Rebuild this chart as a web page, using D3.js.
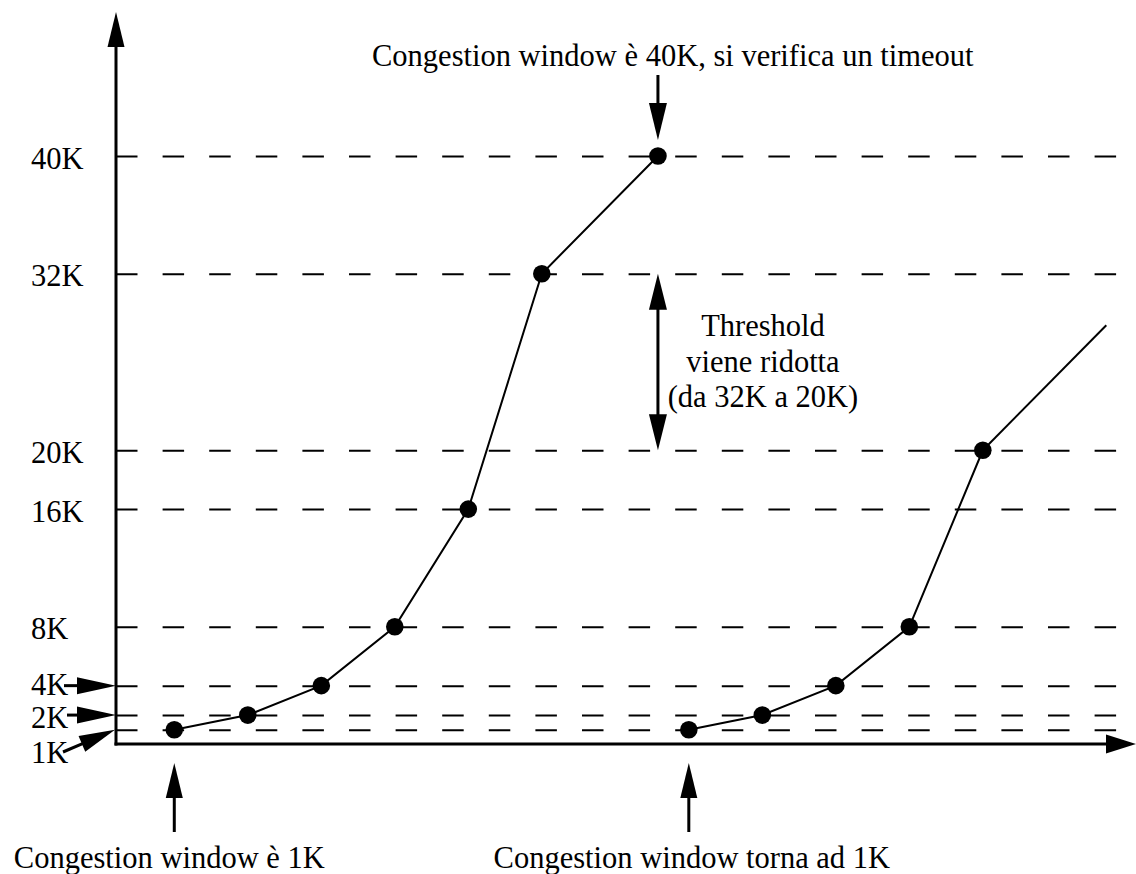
<!DOCTYPE html>
<html>
<head>
<meta charset="utf-8">
<script src="https://cdn.jsdelivr.net/npm/d3@7"></script>
<style>
  html, body { margin: 0; padding: 0; background: #fff; }
  svg { display: block; }
</style>
</head>
<body>
<script>
// ---- Data ----
const tickValuesK = [1, 2, 4, 8, 16, 20, 32, 40];
const tickLabels = ["1K", "2K", "4K", "8K", "16K", "20K", "32K", "40K"];
const round1X = [0, 1, 2, 3, 4, 5, 6.58];
const round1Y = [1, 2, 4, 8, 16, 32, 40];
const round2X = [7, 8, 9, 10, 11];
const round2Y = [1, 2, 4, 8, 20];
const tailX = [11, 12.68];
const tailY = [20, 28.5];
const topNote = "Congestion window è 40K, si verifica un timeout";
const thresholdNote = ["Threshold", "viene ridotta", "(da 32K a 20K)"];
const bottomNotes = ["Congestion window è 1K", "Congestion window torna ad 1K"];

// ---- Layout ----
const W = 1136, H = 874;
const FONT = "'Liberation Serif', 'Times New Roman', serif";
const FS = 30.5;

const svg = d3.select("body").append("svg")
  .attr("width", W).attr("height", H)
  .attr("viewBox", `0 0 ${W} ${H}`);

const x = d3.scaleLinear().domain([-0.793, 13.084]).range([116, 1136]);
const y = d3.scaleLinear().domain([0, 40]).range([744.5, 156]);

function arrowHead(tipX, tipY, dx, dy, len = 35, half = 8.5) {
  const n = Math.hypot(dx, dy); const ux = dx / n, uy = dy / n;
  const bx = tipX - ux * len, by = tipY - uy * len;
  const px = -uy * half, py = ux * half;
  svg.append("polygon")
    .attr("points", `${tipX},${tipY} ${bx + px},${by + py} ${bx - px},${by - py}`)
    .attr("fill", "#000");
}
function arrow(x1, y1, x2, y2, w = 3, len = 35, half = 8.5) {
  const n = Math.hypot(x2 - x1, y2 - y1);
  const ux = (x2 - x1) / n, uy = (y2 - y1) / n;
  svg.append("line")
    .attr("x1", x1).attr("y1", y1)
    .attr("x2", x2 - ux * (len - 2)).attr("y2", y2 - uy * (len - 2))
    .attr("stroke", "#000").attr("stroke-width", w);
  arrowHead(x2, y2, x2 - x1, y2 - y1, len, half);
}

// ---- Y axis with dashed gridlines as ticks ----
const yAxis = d3.axisLeft(y)
  .tickValues(tickValuesK)
  .tickFormat((d, i) => tickLabels[i])
  .tickSizeInner(-(1117 - 116))
  .tickSizeOuter(0)
  .tickPadding(0);

const labelOffset = d => d === 1 ? 33 : d === 4 ? 8.5 : 12;

const gy = svg.append("g")
  .attr("transform", "translate(116,0)")
  .call(yAxis);
gy.select(".domain").remove();
gy.selectAll(".tick line")
  .attr("stroke", "#000")
  .attr("stroke-width", 2)
  .attr("stroke-dasharray", "21.5,25.1");
gy.selectAll(".tick text")
  .attr("x", 31 - 116)
  .attr("dy", null)
  .attr("y", labelOffset)
  .attr("text-anchor", "start")
  .attr("fill", "#000")
  .style("font-family", FONT)
  .style("font-size", FS + "px");

// ---- Axes with arrows ----
arrow(116, 745.5, 116, 12, 3, 35, 8.5);
arrow(114.5, 744, 1136, 744, 3, 30, 9.5);

// Tick arrows for small values
arrow(64, y(4), 116, y(4), 3, 39, 8.5);
arrow(67, y(2), 116, y(2), 3, 39, 8.5);
arrow(63, 752, 115, y(1), 3, 36, 8.5);

// ---- Series ----
const line = d3.line().x(d => x(d[0])).y(d => y(d[1]));
const s1 = round1X.map((v, i) => [v, round1Y[i]]);
const s2 = round2X.map((v, i) => [v, round2Y[i]]);
const tail = tailX.map((v, i) => [v, tailY[i]]);

[s1, s2, tail].forEach(s => {
  svg.append("path").attr("d", line(s))
    .attr("fill", "none").attr("stroke", "#000").attr("stroke-width", 2);
});
svg.selectAll("circle.pt").data(s1.concat(s2)).enter().append("circle")
  .attr("class", "pt")
  .attr("cx", d => x(d[0])).attr("cy", d => y(d[1])).attr("r", 8.8)
  .attr("fill", "#000");

// ---- Annotations ----
const txt = (tx, ty, s, anchor = "middle") => svg.append("text")
  .attr("x", tx).attr("y", ty).attr("text-anchor", anchor)
  .style("font-family", FONT).style("font-size", FS + "px")
  .attr("fill", "#000").text(s);

// timeout
txt(372, 66, topNote, "start");
arrow(x(6.58), 75, x(6.58), 140, 3, 37, 9);

// threshold double arrow
const thX = x(6.58);
svg.append("line").attr("x1", thX).attr("x2", thX)
  .attr("y1", y(32) + 30).attr("y2", y(20) - 30)
  .attr("stroke", "#000").attr("stroke-width", 3);
arrowHead(thX, y(32), 0, -1, 36, 9);
arrowHead(thX, y(20), 0, 1, 36, 9);
thresholdNote.forEach((s, i) => txt(763, 336 + i * 35.5, s));

// bottom arrows and notes
arrow(x(0), 832, x(0), 763, 3, 35, 8.5);
arrow(x(7), 832, x(7), 763, 3, 35, 8.5);
txt(x(0) - 5, 868, bottomNotes[0]);
txt(x(7) + 3, 868, bottomNotes[1]);
</script>
</body>
</html>
